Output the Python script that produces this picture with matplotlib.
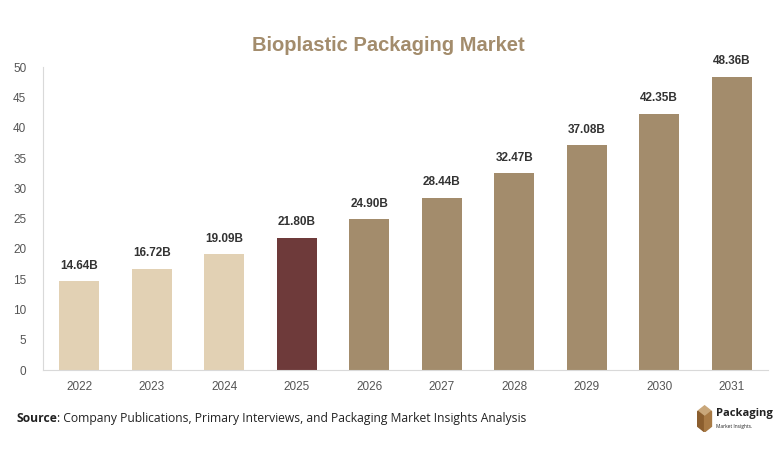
import matplotlib.pyplot as plt
from matplotlib.patches import Polygon

years = ["2022", "2023", "2024", "2025", "2026", "2027", "2028", "2029", "2030", "2031"]
values = [14.64, 16.72, 19.09, 21.80, 24.90, 28.44, 32.47, 37.08, 42.35, 48.36]
labels = ["14.64B", "16.72B", "19.09B", "21.80B", "24.90B", "28.44B", "32.47B", "37.08B", "42.35B", "48.36B"]
colors = ["#E2D1B4"] * 3 + ["#6E3A3A"] + ["#A38C6C"] * 6

plt.rcParams["font.family"] = ["Liberation Sans", "DejaVu Sans"]

fig = plt.figure(figsize=(7.82, 4.57), dpi=100)
ax = fig.add_axes([0.055, 0.19, 0.927, 0.663])

x = range(len(years))
ax.bar(x, values, width=0.55, color=colors)
for i, v in enumerate(values):
    ax.text(i, v + 1.6, labels[i], ha="center", va="bottom", fontsize=8.5,
            fontweight="bold", color="#333333")

ax.set_xlim(-0.5, len(years) - 0.5)
ax.set_ylim(0, 50)
ax.set_yticks(range(0, 51, 5))
ax.set_xticks(list(x))
ax.set_xticklabels(years)
ax.tick_params(axis="both", length=0, labelsize=8.5, colors="#555555")
ax.tick_params(axis="x", pad=8)
ax.tick_params(axis="y", pad=12)
for s in ["top", "right"]:
    ax.spines[s].set_visible(False)
for s in ["left", "bottom"]:
    ax.spines[s].set_color("#D9D9D9")

fig.text(0.497, 0.9, "Bioplastic Packaging Market", ha="center", va="center",
         fontsize=14.5, fontweight="bold", color="#A38C6C")

src = fig.text(0.021, 0.085, "Source", ha="left", va="center", fontsize=8.7,
               fontweight="bold", color="#222222", family="Open Sans")
fig.canvas.draw()
bb = src.get_window_extent().transformed(fig.transFigure.inverted())
fig.text(bb.x1, 0.085, ": Company Publications, Primary Interviews, and Packaging Market Insights Analysis",
         ha="left", va="center", fontsize=8.7, color="#222222", family="Open Sans")

# logo
lax = fig.add_axes([0.89, 0.055, 0.022, 0.06])
lax.set_xlim(0, 1)
lax.set_ylim(0, 1)
lax.axis("off")
lax.add_patch(Polygon([[0.1, 0.75], [0.5, 0.95], [0.9, 0.75], [0.5, 0.55]], color="#C9A77A"))
lax.add_patch(Polygon([[0.1, 0.75], [0.5, 0.55], [0.5, 0.0], [0.1, 0.2]], color="#8B5E2E"))
lax.add_patch(Polygon([[0.5, 0.55], [0.9, 0.75], [0.9, 0.2], [0.5, 0.0]], color="#A87A45"))
fig.text(0.915, 0.095, "Packaging", ha="left", va="center", fontsize=8,
         fontweight="bold", color="#222222", family="Open Sans")
fig.text(0.915, 0.066, "Market Insights.", ha="left", va="center", fontsize=3.5,
         color="#222222", family="Open Sans")

fig.savefig("out.png", dpi=100)
